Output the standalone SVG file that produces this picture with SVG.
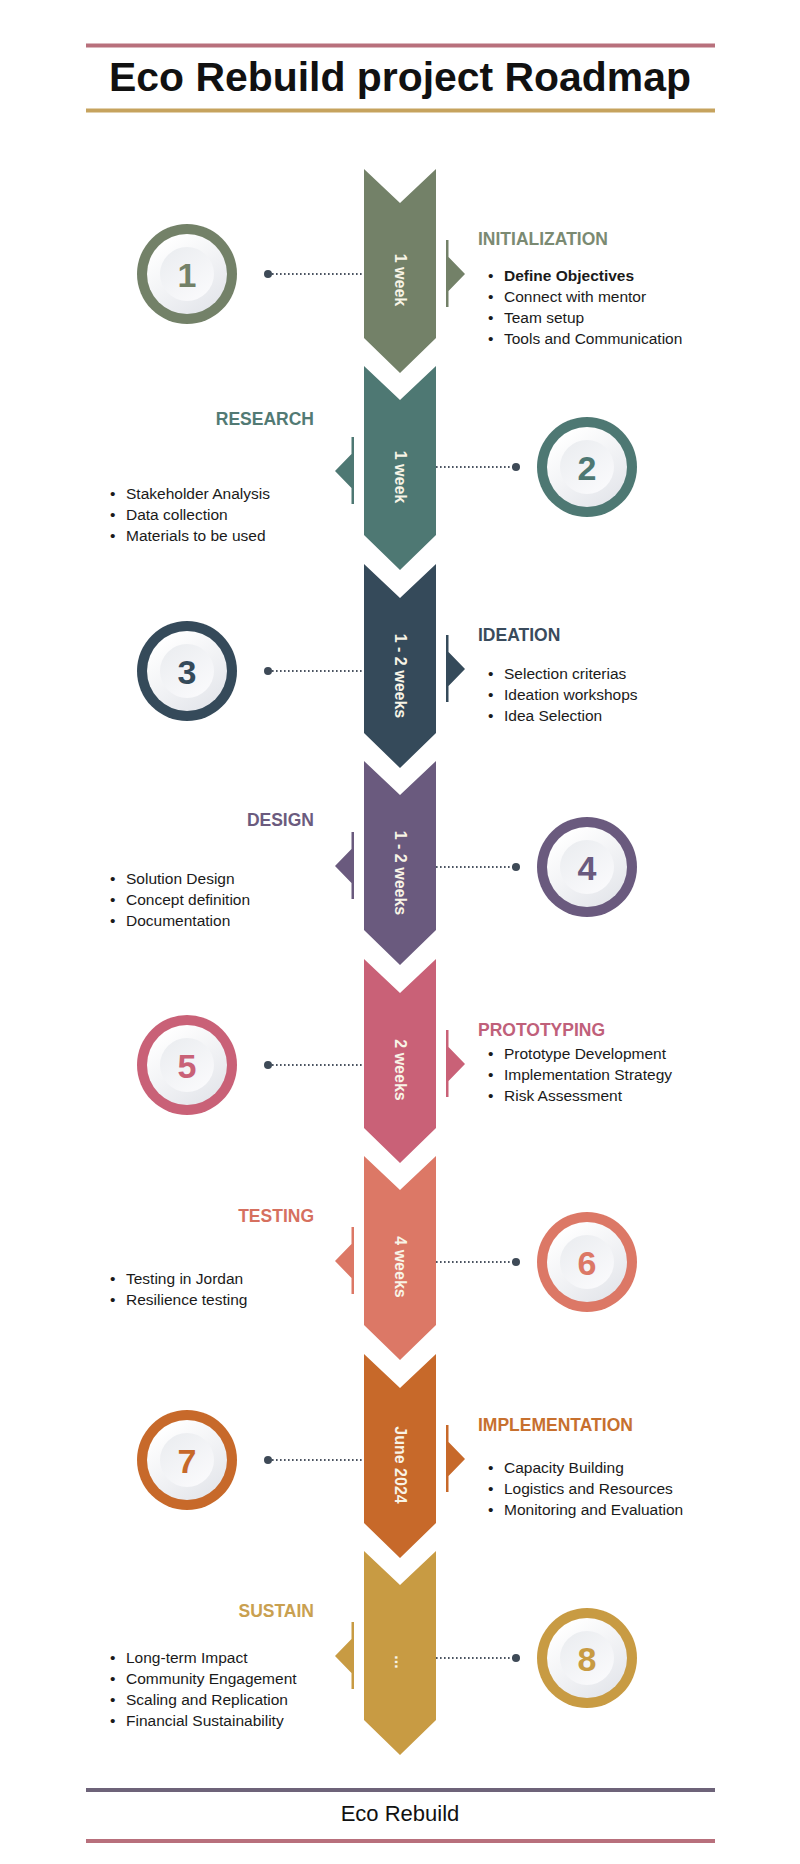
<svg xmlns="http://www.w3.org/2000/svg" width="800" height="1864" viewBox="0 0 800 1864">
  <defs>
    <style>
      .heading { font-family: "Liberation Sans", Arial, sans-serif; font-weight: 700; fill: #111; }
      .footer { font-family: "Liberation Sans", Arial, sans-serif; font-size: 22px; fill: #111; }
      .stage { font-family: "Liberation Sans", Arial, sans-serif; font-weight: 700; font-size: 17.5px; }
      .item { font-family: "Liberation Sans", Arial, sans-serif; font-size: 15.5px; fill: #1a1a1a; }
      .item .b { font-weight: 700; }
      .dur { font-family: "Liberation Sans", Arial, sans-serif; font-weight: 700; font-size: 16px; fill: #f8f4e6; }
      .num { font-family: "Liberation Sans", Arial, sans-serif; font-weight: 700; font-size: 34px; text-anchor: middle; dominant-baseline: central; }
      .dotline { stroke: #4a5360; stroke-width: 2; stroke-dasharray: 1.6 2.4; fill: none; }
      .dot { fill: #3e4a57; }
    </style>
    <!-- one chevron segment of the timeline spine, top edge at y=0 -->
    <path id="chev" d="M364,0 L400,34 L436,0 L436,169 L400,204 L364,169 Z"/>
    <!-- side tabs: bar plus pointer -->
    <path id="tabR" d="M446,71 h2.5 v17 L465,105 L448.5,122 V138 h-2.5 Z"/>
    <path id="tabL" d="M354,71 h-2.5 v17 L335,105 L351.5,122 V138 h2.5 Z"/>
    <linearGradient id="plate" x1="0.2" y1="0.1" x2="0.8" y2="0.95">
      <stop offset="0" stop-color="#ffffff"/>
      <stop offset="1" stop-color="#e4e6eb"/>
    </linearGradient>
    <linearGradient id="well" x1="0.2" y1="0.1" x2="0.8" y2="0.95">
      <stop offset="0" stop-color="#eceef1"/>
      <stop offset="1" stop-color="#fafafc"/>
    </linearGradient>
    <!-- numbered badge body -->
    <g id="badge">
      <circle r="40" fill="url(#plate)"/>
      <circle r="27" fill="url(#well)"/>
    </g>
  </defs>

  <rect width="800" height="1864" fill="#ffffff"/>

  <!-- title block -->
  <g id="title">
    <rect x="86" y="43.5" width="629" height="4" fill="#b8707c"/>
    <text class="heading" x="400" y="91" font-size="40" text-anchor="middle" textLength="582" lengthAdjust="spacingAndGlyphs">Eco Rebuild project Roadmap</text>
    <rect x="86" y="108.5" width="629" height="4" fill="#c6a35e"/>
  </g>

  <!-- connectors: dotted leaders between the spine and the badges -->
  <g id="connectors">
    <line class="dotline" x1="268" y1="274" x2="364" y2="274"/>
    <circle class="dot" cx="268" cy="274" r="4"/>
    <line class="dotline" x1="436" y1="467" x2="516" y2="467"/>
    <circle class="dot" cx="516" cy="467" r="4"/>
    <line class="dotline" x1="268" y1="671" x2="364" y2="671"/>
    <circle class="dot" cx="268" cy="671" r="4"/>
    <line class="dotline" x1="436" y1="867" x2="516" y2="867"/>
    <circle class="dot" cx="516" cy="867" r="4"/>
    <line class="dotline" x1="268" y1="1065" x2="364" y2="1065"/>
    <circle class="dot" cx="268" cy="1065" r="4"/>
    <line class="dotline" x1="436" y1="1262" x2="516" y2="1262"/>
    <circle class="dot" cx="516" cy="1262" r="4"/>
    <line class="dotline" x1="268" y1="1460" x2="364" y2="1460"/>
    <circle class="dot" cx="268" cy="1460" r="4"/>
    <line class="dotline" x1="436" y1="1658" x2="516" y2="1658"/>
    <circle class="dot" cx="516" cy="1658" r="4"/>
  </g>

  <!-- stage 1 -->
  <g id="stage1">
    <use href="#chev" y="169" fill="#738168"/>
    <use href="#tabR" y="169" fill="#738168"/>
    <text class="dur" transform="translate(400,280) rotate(90)" text-anchor="middle" dominant-baseline="central">1 week</text>
    <circle cx="187" cy="274" r="50" fill="#738168"/>
    <use href="#badge" x="187" y="274"/>
    <text class="num" x="187" y="275" fill="#738168">1</text>
    <text class="stage" x="478" y="245" fill="#7b8a72">INITIALIZATION</text>
    <text class="item" x="488" y="281">•<tspan x="504" class="b">Define Objectives</tspan></text>
    <text class="item" x="488" y="302">•<tspan x="504">Connect with mentor</tspan></text>
    <text class="item" x="488" y="323">•<tspan x="504">Team setup</tspan></text>
    <text class="item" x="488" y="344">•<tspan x="504">Tools and Communication</tspan></text>
  </g>

  <!-- stage 2 -->
  <g id="stage2">
    <use href="#chev" y="366" fill="#4e7873"/>
    <use href="#tabL" y="366" fill="#4e7873"/>
    <text class="dur" transform="translate(400,477) rotate(90)" text-anchor="middle" dominant-baseline="central">1 week</text>
    <circle cx="587" cy="467" r="50" fill="#4e7873"/>
    <use href="#badge" x="587" y="467"/>
    <text class="num" x="587" y="468" fill="#4e7873">2</text>
    <text class="stage" x="314" y="425" fill="#527a74" text-anchor="end">RESEARCH</text>
    <text class="item" x="110" y="499">•<tspan x="126">Stakeholder Analysis</tspan></text>
    <text class="item" x="110" y="520">•<tspan x="126">Data collection</tspan></text>
    <text class="item" x="110" y="541">•<tspan x="126">Materials to be used</tspan></text>
  </g>

  <!-- stage 3 -->
  <g id="stage3">
    <use href="#chev" y="564" fill="#354a5a"/>
    <use href="#tabR" y="564" fill="#354a5a"/>
    <text class="dur" transform="translate(400,676) rotate(90)" text-anchor="middle" dominant-baseline="central">1 - 2 weeks</text>
    <circle cx="187" cy="671" r="50" fill="#354a5a"/>
    <use href="#badge" x="187" y="671"/>
    <text class="num" x="187" y="672" fill="#354a5a">3</text>
    <text class="stage" x="478" y="641" fill="#3a4b5c">IDEATION</text>
    <text class="item" x="488" y="679">•<tspan x="504">Selection criterias</tspan></text>
    <text class="item" x="488" y="700">•<tspan x="504">Ideation workshops</tspan></text>
    <text class="item" x="488" y="721">•<tspan x="504">Idea Selection</tspan></text>
  </g>

  <!-- stage 4 -->
  <g id="stage4">
    <use href="#chev" y="761" fill="#6a5a7e"/>
    <use href="#tabL" y="761" fill="#6a5a7e"/>
    <text class="dur" transform="translate(400,873) rotate(90)" text-anchor="middle" dominant-baseline="central">1 - 2 weeks</text>
    <circle cx="587" cy="867" r="50" fill="#6a5a7e"/>
    <use href="#badge" x="587" y="867"/>
    <text class="num" x="587" y="868" fill="#6a5a7e">4</text>
    <text class="stage" x="314" y="826" fill="#6b5b7e" text-anchor="end">DESIGN</text>
    <text class="item" x="110" y="884">•<tspan x="126">Solution Design</tspan></text>
    <text class="item" x="110" y="905">•<tspan x="126">Concept definition</tspan></text>
    <text class="item" x="110" y="926">•<tspan x="126">Documentation</tspan></text>
  </g>

  <!-- stage 5 -->
  <g id="stage5">
    <use href="#chev" y="959" fill="#c96177"/>
    <use href="#tabR" y="959" fill="#c96177"/>
    <text class="dur" transform="translate(400,1070) rotate(90)" text-anchor="middle" dominant-baseline="central">2 weeks</text>
    <circle cx="187" cy="1065" r="50" fill="#c96177"/>
    <use href="#badge" x="187" y="1065"/>
    <text class="num" x="187" y="1066" fill="#c96177">5</text>
    <text class="stage" x="478" y="1036" fill="#c0607a">PROTOTYPING</text>
    <text class="item" x="488" y="1059">•<tspan x="504">Prototype Development</tspan></text>
    <text class="item" x="488" y="1080">•<tspan x="504">Implementation Strategy</tspan></text>
    <text class="item" x="488" y="1101">•<tspan x="504">Risk Assessment</tspan></text>
  </g>

  <!-- stage 6 -->
  <g id="stage6">
    <use href="#chev" y="1156" fill="#dc7866"/>
    <use href="#tabL" y="1156" fill="#dc7866"/>
    <text class="dur" transform="translate(400,1267) rotate(90)" text-anchor="middle" dominant-baseline="central">4 weeks</text>
    <circle cx="587" cy="1262" r="50" fill="#dc7866"/>
    <use href="#badge" x="587" y="1262"/>
    <text class="num" x="587" y="1263" fill="#dc7866">6</text>
    <text class="stage" x="314" y="1222" fill="#d6705f" text-anchor="end">TESTING</text>
    <text class="item" x="110" y="1284">•<tspan x="126">Testing in Jordan</tspan></text>
    <text class="item" x="110" y="1305">•<tspan x="126">Resilience testing</tspan></text>
  </g>

  <!-- stage 7 -->
  <g id="stage7">
    <use href="#chev" y="1354" fill="#c7692a"/>
    <use href="#tabR" y="1354" fill="#c7692a"/>
    <text class="dur" transform="translate(400,1465) rotate(90)" text-anchor="middle" dominant-baseline="central">June 2024</text>
    <circle cx="187" cy="1460" r="50" fill="#c7692a"/>
    <use href="#badge" x="187" y="1460"/>
    <text class="num" x="187" y="1461" fill="#c7692a">7</text>
    <text class="stage" x="478" y="1431" fill="#c7702e">IMPLEMENTATION</text>
    <text class="item" x="488" y="1473">•<tspan x="504">Capacity Building</tspan></text>
    <text class="item" x="488" y="1494">•<tspan x="504">Logistics and Resources</tspan></text>
    <text class="item" x="488" y="1515">•<tspan x="504">Monitoring and Evaluation</tspan></text>
  </g>

  <!-- stage 8 -->
  <g id="stage8">
    <use href="#chev" y="1551" fill="#c89b43"/>
    <use href="#tabL" y="1551" fill="#c89b43"/>
    <text class="dur" transform="translate(400,1662) rotate(90)" text-anchor="middle" dominant-baseline="central" fill="#f6e4a6">...</text>
    <circle cx="587" cy="1658" r="50" fill="#c89b43"/>
    <use href="#badge" x="587" y="1658"/>
    <text class="num" x="587" y="1659" fill="#c89b43">8</text>
    <text class="stage" x="314" y="1617" fill="#c9a050" text-anchor="end">SUSTAIN</text>
    <text class="item" x="110" y="1663">•<tspan x="126">Long-term Impact</tspan></text>
    <text class="item" x="110" y="1684">•<tspan x="126">Community Engagement</tspan></text>
    <text class="item" x="110" y="1705">•<tspan x="126">Scaling and Replication</tspan></text>
    <text class="item" x="110" y="1726">•<tspan x="126">Financial Sustainability</tspan></text>
  </g>

  <!-- footer -->
  <g id="footer">
    <rect x="86" y="1788" width="629" height="4" fill="#6d6379"/>
    <text class="footer" x="400" y="1821" text-anchor="middle">Eco Rebuild</text>
    <rect x="86" y="1839" width="629" height="4" fill="#b8707c"/>
  </g>
</svg>
